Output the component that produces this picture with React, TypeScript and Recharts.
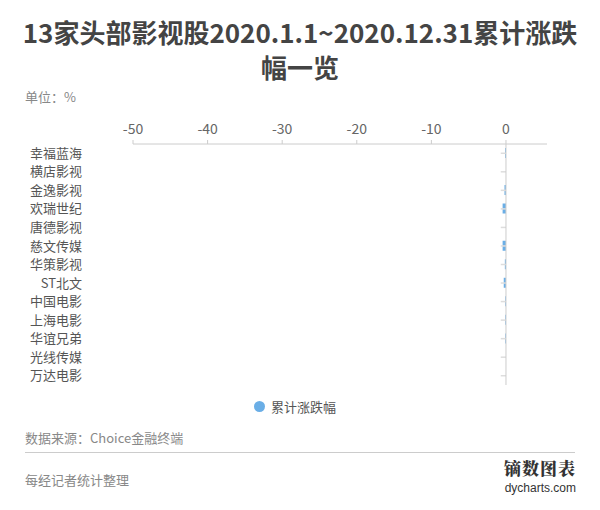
import React from "react";
import { BarChart, Bar, XAxis, YAxis, ReferenceLine } from "recharts";

const categories = [
  "幸福蓝海",
  "横店影视",
  "金逸影视",
  "欢瑞世纪",
  "唐德影视",
  "慈文传媒",
  "华策影视",
  "ST北文",
  "中国电影",
  "上海电影",
  "华谊兄弟",
  "光线传媒",
  "万达电影",
];
const values = [-0.12, 0, -0.2, -0.45, 0, -0.45, -0.15, -0.3, -0.1, -0.1, -0.1, 0, 0];
const xTicks = [-50, -40, -30, -20, -10, 0];
const seriesName = "累计涨跌幅";
const title1 = "13家头部影视股2020.1.1~2020.12.31累计涨跌";
const title2 = "幅一览";
const unitText = "单位：%";
const sourceText = "数据来源：Choice金融终端";
const authorText = "每经记者统计整理";

const data = categories.map((name, i) => ({ name, value: values[i] }));

const FONT = '"Noto Sans CJK SC", "Noto Sans", sans-serif';
const BAR_COLOR = "#6aaee6";

export default function App() {
  return (
    <div
      style={{
        position: "absolute",
        left: 0,
        top: 0,
        width: 600,
        height: 510,
        background: "#fff",
        fontFamily: FONT,
        overflow: "hidden",
      }}
    >
      <div
        style={{
          position: "absolute",
          left: 0,
          top: 14,
          width: 600,
          textAlign: "center",
          fontSize: 26,
          fontWeight: 700,
          color: "#444",
          lineHeight: "35px",
        }}
      >
        <div>{title1}</div>
        <div>{title2}</div>
      </div>
      <div style={{ position: "absolute", left: 25, top: 87, fontSize: 13, color: "#888" }}>
        {unitText}
      </div>
      <div style={{ position: "absolute", left: 0, top: 0 }}>
        <BarChart
          width={600}
          height={400}
          data={data}
          layout="vertical"
          margin={{ top: 114, right: 53, bottom: 15, left: 25 }}
        >
          <XAxis
            type="number"
            orientation="top"
            domain={[-50, 5.5]}
            ticks={xTicks}
            allowDataOverflow
            height={30}
            axisLine={{ stroke: "#ccc" }}
            tickLine={{ stroke: "#ccc" }}
            tickSize={4}
            tickMargin={6}
            tick={{ fill: "#666", fontSize: 14, fontFamily: FONT }}
          />
          <YAxis
            type="category"
            dataKey="name"
            width={108}
            axisLine={false}
            tickLine={false}
            tickSize={0}
            tickMargin={51}
            interval={0}
            tick={{ fill: "#555", fontSize: 13, fontFamily: FONT }}
          />
          {categories.map((c) => (
            <ReferenceLine
              key={c}
              segment={[
                { x: -0.7, y: c },
                { x: 0, y: c },
              ]}
              stroke="#ddd"
              strokeWidth={1.5}
            />
          ))}
          <ReferenceLine x={0} stroke="#ccc" />
          <Bar dataKey="value" name={seriesName} fill={BAR_COLOR} barSize={10} isAnimationActive={false} />
        </BarChart>
      </div>
      <div
        style={{
          position: "absolute",
          left: 0,
          top: 397,
          width: 600,
          display: "flex",
          justifyContent: "center",
          alignItems: "center",
          fontSize: 13,
          color: "#555",
        }}
      >
        <span
          style={{
            display: "inline-block",
            width: 11,
            height: 11,
            borderRadius: "50%",
            background: BAR_COLOR,
            marginRight: 6,
            marginLeft: -10,
          }}
        />
        <span>{seriesName}</span>
      </div>
      <div style={{ position: "absolute", left: 25, top: 428, fontSize: 13, color: "#888" }}>
        {sourceText}
      </div>
      <div
        style={{
          position: "absolute",
          left: 25,
          top: 452,
          width: 550,
          height: 1,
          background: "#ccc",
        }}
      />
      <div style={{ position: "absolute", left: 25, top: 470, fontSize: 13, color: "#888" }}>
        {authorText}
      </div>
      <div
        style={{
          position: "absolute",
          right: 24,
          top: 458,
          textAlign: "right",
        }}
      >
        <div
          style={{
            fontFamily: '"Noto Serif CJK SC", "Noto Sans CJK SC", serif',
            fontWeight: 900,
            fontSize: 17,
            lineHeight: "20px",
            height: 20,
            color: "#333",
            letterSpacing: 1,
          }}
        >
          镝数图表
        </div>
        <div
          style={{
            fontFamily: '"Liberation Sans", Arial, sans-serif',
            fontSize: 12,
            lineHeight: "14px",
            height: 14,
            color: "#333",
            marginTop: 3,
          }}
        >
          dycharts.com
        </div>
      </div>
    </div>
  );
}
